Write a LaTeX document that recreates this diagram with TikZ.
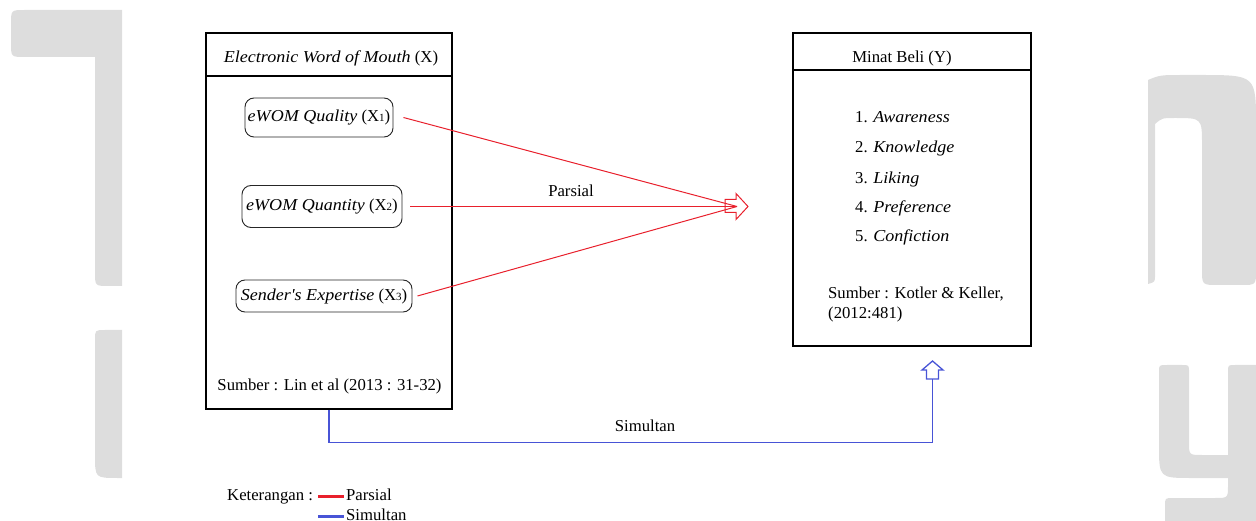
\documentclass[tikz,border=0pt]{standalone}
\usepackage{fontspec}
\setmainfont{Liberation Serif}[Ligatures=TeXOff, ItalicFeatures={FakeStretch=1.08}]
\definecolor{wmgray}{RGB}{221,221,221}
\definecolor{parred}{RGB}{232,32,44}
\definecolor{simblue}{RGB}{72,84,214}
\newcommand\xsubd[1]{{\fontsize{11}{12}\selectfont #1}}
\begin{document}
\begin{tikzpicture}[x=1pt,y=-1pt, font=\fontsize{16.7}{20}\selectfont,
 wm/.style={fill=wmgray},
 box/.style={draw=black, line width=1.2pt, inner sep=0pt, rectangle},
 ind/.style={draw=black!85, line width=0.9pt, rounded corners=9pt, inner sep=0pt},
 txt/.style={inner sep=0pt},
 parline/.style={draw=parred, line width=1pt},
 simline/.style={draw=simblue, line width=1.3pt},
 legred/.style={draw=parred, line width=3pt},
 legblue/.style={draw=simblue, line width=3pt},
]
\useasboundingbox (0,0) rectangle (1256,521);
% watermark shapes
\fill[wm] (122,10) -- (25,10) .. controls (11,10) .. (11,24) -- (11,43) .. controls (11,57) .. (25,57) -- (95,57) -- (95,272) .. controls (95,286) .. (109,286) -- (122,286) -- cycle;
\fill[wm] (122,330) -- (105,330) .. controls (95,330) .. (95,340) -- (95,455) .. controls (95,478) .. (118,478) -- (122,478) -- cycle;
\fill[wm] (1148,80) .. controls (1160,75) .. (1185,75) -- (1200,75) .. controls (1256,75) .. (1256,125) -- (1256,270) .. controls (1256,285) .. (1241,285) -- (1218,285) .. controls (1202,285) .. (1202,269) -- (1202,145) .. controls (1202,118) .. (1175,118) .. controls (1162,118) .. (1155,124) -- (1155,275) .. controls (1155,282) .. (1148,284) -- cycle;
\fill[wm] (1167,365) -- (1182,365) .. controls (1189,365) .. (1189,372) -- (1189,442) .. controls (1189,455) .. (1202,455) -- (1228,455) -- (1228,372) .. controls (1228,365) .. (1235,365) -- (1256,365) -- (1256,521) -- (1165,521) -- (1165,506) .. controls (1165,498) .. (1173,498) -- (1215,498) .. controls (1228,498) .. (1228,485) -- (1228,478) -- (1192,478) .. controls (1159,478) .. (1159,445) -- (1159,372) .. controls (1159,365) .. (1167,365) -- cycle;
% left box
\node[box, minimum width=246pt, minimum height=43pt] (xhead) at (329,54.5) {};
\node[box, minimum width=246pt, minimum height=333pt] (xbody) at (329,242.5) {};
\node[txt, anchor=base] (xt) at (331,63) {\textit{Electronic Word of Mouth} (X)};
\node[ind, minimum width=148pt, minimum height=39pt] (q1) at (319,117.5) {\textit{eWOM Quality} (X\xsubd{1})};
\node[ind, minimum width=160pt, minimum height=42pt] (q2) at (322,206.5) {\textit{eWOM Quantity} (X\xsubd{2})};
\node[ind, minimum width=176pt, minimum height=32pt] (q3) at (324,296) {\textit{Sender's Expertise} (X\xsubd{3})};
\node[txt, anchor=base] (xs) at (329.5,390) {Sumber : Lin et al (2013 : 31-32)};
% right box
\node[box, minimum width=238pt, minimum height=37pt] (yhead) at (912,51.5) {};
\node[box, minimum width=238pt, minimum height=276pt] (ybody) at (912,208) {};
\node[txt, anchor=base] (yt) at (902,63) {Minat Beli (Y)};
\node[txt, anchor=base west] (y1) at (855,123) {1. \textit{Awareness}};
\node[txt, anchor=base west] (y2) at (855,153) {2. \textit{Knowledge}};
\node[txt, anchor=base west] (y3) at (855,184) {3. \textit{Liking}};
\node[txt, anchor=base west] (y4) at (855,213) {4. \textit{Preference}};
\node[txt, anchor=base west] (y5) at (855,242) {5. \textit{Confiction}};
\node[txt, anchor=base west] (ys1) at (828,299) {Sumber : Kotler \& Keller,};
\node[txt, anchor=base west] (ys2) at (828,319) {(2012:481)};
% partial arrows
\coordinate (pt) at (737,206.5);
\draw[parline] ([xshift=10pt]q1.east) -- (pt);
\draw[parline] ([xshift=8pt]q2.east) -- (pt);
\draw[parline] ([xshift=5pt]q3.east) -- (pt);
\draw[parline, line join=miter] (725,199.5) -- (736,199.5) -- (736,193.5) -- (748,206.5) -- (736,219.5) -- (736,212.5) -- (725,212.5) -- cycle;
\node[txt, anchor=base] (lp) at (571,197) {Parsial};
% simultaneous arrow
\coordinate (sb) at (932.5,379);
\coordinate (sc) at (932.5,442.5);
\draw[simline] (xbody.south) |- (sc) -- (sb);
\draw[simline, line join=miter] (926.5,379) -- (926.5,370) -- (922,370) -- (932.5,361) -- (943,370) -- (938.5,370) -- (938.5,379) -- cycle;
\node[txt, anchor=base] (ls) at (645,431) {Simultan};
% legend
\node[txt, anchor=base west] (lk) at (227,500) {Keterangan :};
\coordinate (lr1) at (318,496);
\coordinate (lr2) at (344,496);
\coordinate (lb1) at (318,516.5);
\coordinate (lb2) at (344,516.5);
\draw[legred] (lr1) -- (lr2);
\draw[legblue] (lb1) -- (lb2);
\node[txt, anchor=base west] (lgp) at (346,500) {Parsial};
\node[txt, anchor=base west] (lgs) at (346,520) {Simultan};
\end{tikzpicture}
\end{document}
